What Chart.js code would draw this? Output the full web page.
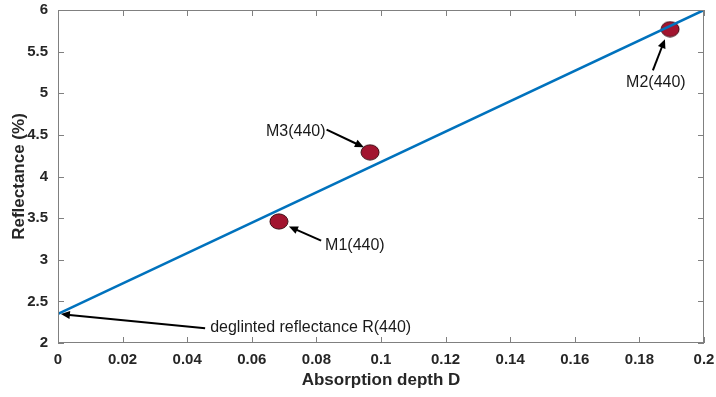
<!DOCTYPE html>
<html>
<head>
<meta charset="utf-8">
<script src="https://cdn.jsdelivr.net/npm/chart.js@4"></script>
<style>
  body { margin: 0; background: #fff; }
  #wrap { width: 716px; height: 397px; }
</style>
</head>
<body>
<div id="wrap"><canvas id="chart"></canvas></div>
<script>
// fitted line (deglinted reflectance at D = 0)
const lineD = [0, 0.2];
const lineR = [2.35, 6.0];

// measurements
const pointNames = ["M1(440)", "M3(440)", "M2(440)"];
const pointD = [0.0684, 0.0966, 0.1895];
const pointR = [3.46, 4.29, 5.77];

// arrow labels: text, text anchor (data), arrow tip (data)
const noteText = ["deglinted reflectance R(440)", "M1(440)", "M3(440)", "M2(440)"];
const noteAt = [[0.0471, 2.19], [0.0827, 3.17], [0.0644, 4.54], [0.1851, 5.13]];
const noteTip = [[0.0009, 2.347], [0.0715, 3.40], [0.0947, 4.35], [0.1879, 5.65]];

const xTicks = [0, 0.02, 0.04, 0.06, 0.08, 0.1, 0.12, 0.14, 0.16, 0.18, 0.2];
const yTicks = [2, 2.5, 3, 3.5, 4, 4.5, 5, 5.5, 6];

const fontFam = "'Liberation Sans', Arial, Helvetica, sans-serif";

// ellipse marker like the matlab one
const marker = document.createElement("canvas");
marker.width = 20; marker.height = 17;
(function () {
    const c = marker.getContext("2d");
    c.beginPath();
    c.ellipse(10, 8.5, 9, 7.6, 0, 0, Math.PI * 2);
    c.fillStyle = "#A2142F";
    c.fill();
    c.lineWidth = 1;
    c.strokeStyle = "#3b0810";
    c.stroke();
})();

// box with inward ticks + arrows
const boxPlugin = {
    id: "box",
    afterDatasetsDraw(chart) {
        const ctx = chart.ctx;
        const a = chart.chartArea;
        const xs = chart.scales.x, ys = chart.scales.y;
        ctx.save();
        ctx.strokeStyle = "#808080";
        ctx.lineWidth = 1;
        ctx.strokeRect(a.left + 0.5, a.top + 0.5, a.right - a.left - 1, a.bottom - a.top - 1);
        ctx.beginPath();
        xTicks.forEach(v => {
            const px = Math.round(xs.getPixelForValue(v)) + 0.5;
            ctx.moveTo(px, a.bottom); ctx.lineTo(px, a.bottom - 6);
            ctx.moveTo(px, a.top); ctx.lineTo(px, a.top + 6);
        });
        yTicks.forEach(v => {
            const py = Math.round(ys.getPixelForValue(v)) + 0.5;
            ctx.moveTo(a.left, py); ctx.lineTo(a.left + 6, py);
            ctx.moveTo(a.right, py); ctx.lineTo(a.right - 6, py);
        });
        ctx.stroke();

        ctx.font = "16px " + fontFam;
        ctx.fillStyle = "#1a1a1a";
        ctx.strokeStyle = "#000";
        ctx.textBaseline = "middle";
        noteText.forEach((t, i) => {
            const tx = xs.getPixelForValue(noteAt[i][0]);
            const ty = ys.getPixelForValue(noteAt[i][1]);
            const hx = xs.getPixelForValue(noteTip[i][0]);
            const hy = ys.getPixelForValue(noteTip[i][1]);
            const w = ctx.measureText(t).width;
            let sx, sy;
            if (i === 0) { ctx.textAlign = "left"; sx = tx - 5; sy = ty + 1; }
            else if (i === 1) { ctx.textAlign = "left"; sx = tx - 4; sy = ty - 5; }
            else if (i === 2) { ctx.textAlign = "left"; sx = tx + w + 1; sy = ty - 2; }
            else { ctx.textAlign = "center"; sx = tx - 3; sy = ty - 12; }
            ctx.fillText(t, tx, ty);
            // shaft
            const ang = Math.atan2(hy - sy, hx - sx);
            ctx.lineWidth = 2;
            ctx.beginPath();
            ctx.moveTo(sx, sy);
            ctx.lineTo(hx - 6 * Math.cos(ang), hy - 6 * Math.sin(ang));
            ctx.stroke();
            // head
            ctx.beginPath();
            ctx.moveTo(hx, hy);
            ctx.lineTo(hx - 9 * Math.cos(ang) + 4 * Math.sin(ang), hy - 9 * Math.sin(ang) - 4 * Math.cos(ang));
            ctx.lineTo(hx - 9 * Math.cos(ang) - 4 * Math.sin(ang), hy - 9 * Math.sin(ang) + 4 * Math.cos(ang));
            ctx.closePath();
            ctx.fillStyle = "#000";
            ctx.fill();
            ctx.fillStyle = "#1a1a1a";
        });
        ctx.restore();
    }
};

const fmt = v => String(Number(v.toFixed(2)));

new Chart(document.getElementById("chart"), {
    type: "scatter",
    data: {
        datasets: [
            {
                type: "line",
                data: lineD.map((d, i) => ({ x: d, y: lineR[i] })),
                borderColor: "#0072BD",
                borderWidth: 2.5,
                pointRadius: 0,
                fill: false
            },
            {
                data: pointD.map((d, i) => ({ x: d, y: pointR[i] })),
                pointStyle: marker,
                pointRadius: 9
            }
        ]
    },
    plugins: [boxPlugin],
    options: {
        responsive: true,
        maintainAspectRatio: false,
        animation: false,
        layout: { padding: { top: 9, right: 12, left: 2, bottom: 0 } },
        plugins: { legend: { display: false }, tooltip: { enabled: false } },
        scales: {
            x: {
                type: "linear",
                min: 0, max: 0.2,
                grid: { display: false },
                border: { display: false },
                afterBuildTicks: s => { s.ticks = xTicks.map(v => ({ value: v })); },
                afterFit: s => { s.height = 54; s.paddingLeft = 0; s.paddingRight = 0; },
                ticks: {
                    callback: v => fmt(v),
                    color: "#262626",
                    font: { family: fontFam, size: 15, weight: "bold" },
                    padding: 0,
                    maxRotation: 0
                },
                title: {
                    display: true,
                    text: "Absorption depth D",
                    color: "#262626",
                    font: { family: fontFam, size: 17, weight: "bold" },
                    padding: { top: 0, bottom: 6 }
                }
            },
            y: {
                type: "linear",
                min: 2, max: 6,
                grid: { display: false },
                border: { display: false },
                afterBuildTicks: s => { s.ticks = yTicks.map(v => ({ value: v })); },
                afterFit: s => { s.width = 56; s.paddingTop = 0; s.paddingBottom = 0; },
                ticks: {
                    callback: v => fmt(v),
                    color: "#262626",
                    font: { family: fontFam, size: 15, weight: "bold" },
                    padding: 2
                },
                title: {
                    display: true,
                    text: "Reflectance (%)",
                    color: "#262626",
                    font: { family: fontFam, size: 17, weight: "bold" },
                    padding: { top: 7, bottom: 0 }
                }
            }
        }
    }
});
</script>
</body>
</html>
